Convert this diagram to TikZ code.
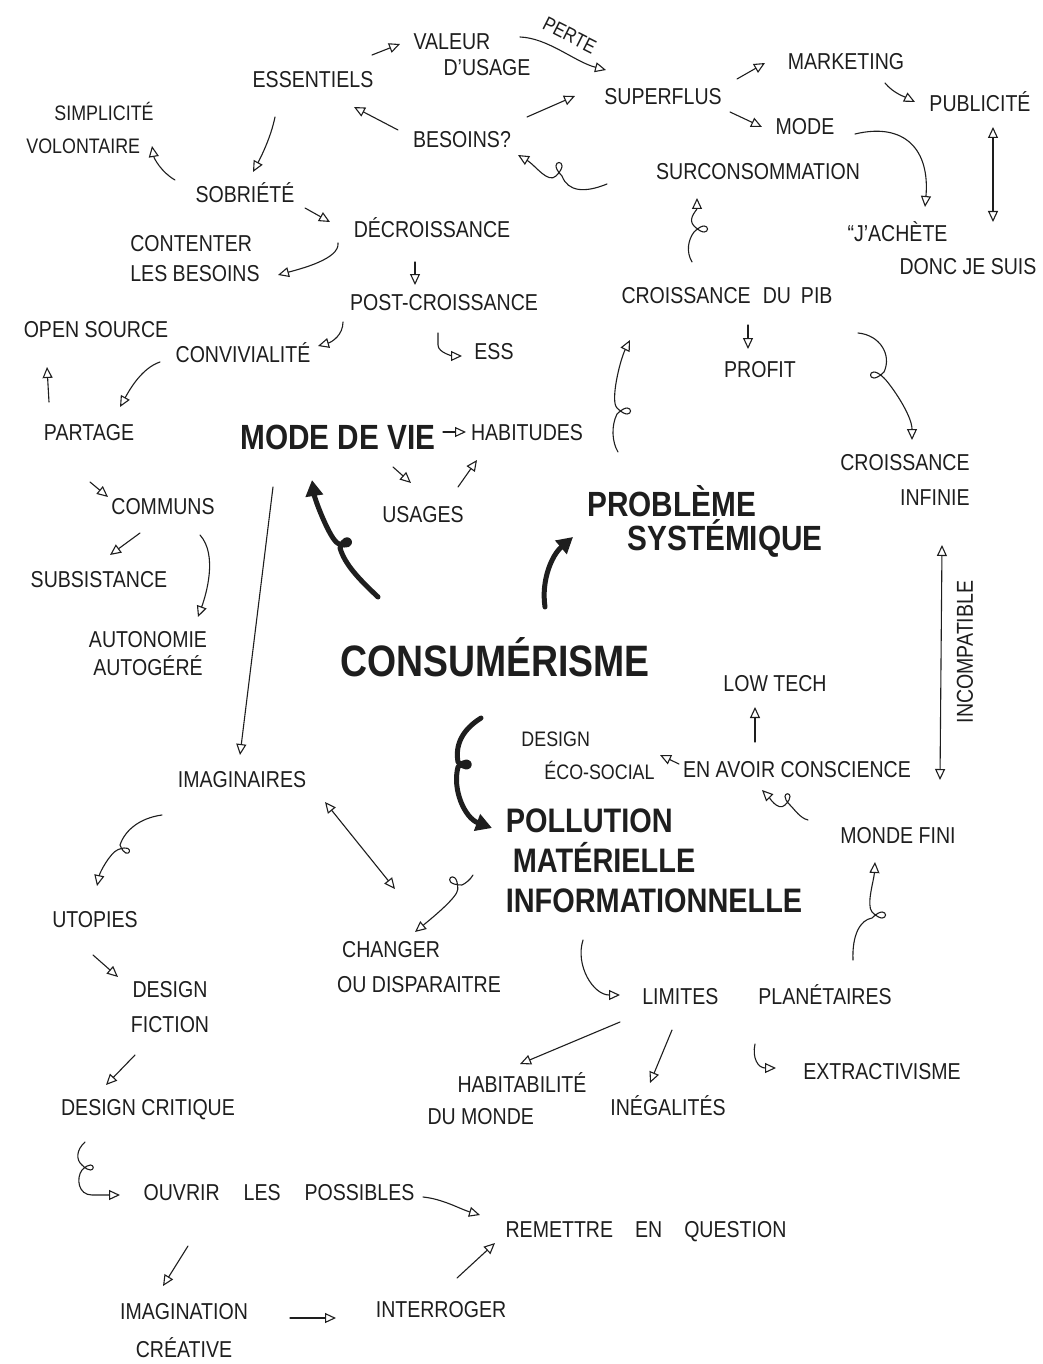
\documentclass[tikz,border=0pt]{standalone}
\usepackage{fontspec}
\setmainfont{Liberation Sans}[FakeStretch=0.85]
\usetikzlibrary{arrows.meta,calc}
\definecolor{ink}{HTML}{1E1E1E}
\begin{document}
\begin{tikzpicture}[x=1pt,y=-1pt,
  lbl/.style={font=\fontsize{23}{29}\selectfont, text=ink, inner sep=1pt, align=center},
  hd/.style={font=\fontsize{35}{36}\selectfont\bfseries, text=ink, inner sep=1pt},
  con/.style={draw=ink, line width=1.1pt, line cap=round, line join=round,
              -{Triangle[open, length=11pt, width=10pt]}},
  twoway/.style={con, {Triangle[open, length=11pt, width=10pt]}-{Triangle[open, length=11pt, width=10pt]}},
  bigarrow/.style={draw=ink, line width=5pt, line cap=round, line join=round,
              -{Triangle[length=16pt, width=17pt]}}]

\fill[white] (0,0) rectangle (1043,1364);
\useasboundingbox (0,0) rectangle (1043,1364);

% ---------- labels ----------
\node[lbl] (essentiels) at (313,80) {ESSENTIELS};
\node[lbl, align=left] (valeur) at (472,55) {VALEUR\\[-3pt]\hspace*{30pt}D'USAGE};
\node[lbl] (superflus) at (663,97) {SUPERFLUS};
\node[lbl] (marketing) at (846,62) {MARKETING};
\node[lbl] (publicite) at (980,102) {PUBLICITÉ};
\node[lbl] (mode) at (805,127) {MODE};
\node[lbl] (besoins) at (462,140) {BESOINS?};
\node[lbl, font=\fontsize{21}{33}\selectfont, align=left] (simplicite) at (90,128) {\hspace*{28pt}SIMPLICITÉ\\VOLONTAIRE};
\node[lbl] (surconso) at (758,172) {SURCONSOMMATION};
\node[lbl] (sobriete) at (245,193) {SOBRIÉTÉ};
\node[lbl, font=\fontsize{23}{33}\selectfont, align=left] (jachete) at (942,248) {“J'ACHÈTE\\\hspace*{52pt}DONC JE SUIS};
\node[lbl] (decroissance) at (432,228) {DÉCROISSANCE};
\node[lbl, font=\fontsize{23}{30}\selectfont, align=left] (contenter) at (195,259) {CONTENTER\\LES BESOINS};
\node[lbl] (postcroissance) at (444,303) {POST-CROISSANCE};
\node[lbl] (pib) at (727,296) {CROISSANCE\hspace{12pt}DU\hspace{10pt}PIB};
\node[lbl] (opensource) at (96,330) {OPEN SOURCE};
\node[lbl] (convivialite) at (243,353) {CONVIVIALITÉ};
\node[lbl] (ess) at (494,352) {ESS};
\node[lbl] (profit) at (760,370) {PROFIT};
\node[lbl] (partage) at (89,433) {PARTAGE};
\node[hd] (modedevie) at (338,437) {MODE DE VIE};
\node[lbl] (habitudes) at (527,433) {HABITUDES};
\node[lbl, font=\fontsize{23}{35}\selectfont, align=right] (infinie) at (905,480) {CROISSANCE\\INFINIE};
\node[lbl] (usages) at (423,515) {USAGES};
\node[lbl] (communs) at (163,507) {COMMUNS};
\node[hd, font=\fontsize{35}{34}\selectfont\bfseries, align=left] (probleme) at (705,521) {PROBLÈME\\\hspace*{40pt}SYSTÉMIQUE};
\node[lbl] (subsistance) at (99,580) {SUBSISTANCE};
\node[lbl, rotate=90] (incompatible) at (965,652) {INCOMPATIBLE};
\node[hd, font=\fontsize{44}{46}\selectfont\bfseries] (consumerisme) at (495,657) {CONSUMÉRISME};
\node[lbl, font=\fontsize{23}{28}\selectfont] (autonomie) at (148,654) {AUTONOMIE\\AUTOGÉRÉ};
\node[lbl] (lowtech) at (775,684) {LOW TECH};
\node[lbl, font=\fontsize{21}{33}\selectfont, align=left] (designeco) at (588,756) {DESIGN\\\hspace*{23pt}ÉCO-SOCIAL};
\node[lbl] (conscience) at (797,770) {EN AVOIR CONSCIENCE};
\node[lbl] (imaginaires) at (242,780) {IMAGINAIRES};
\node[hd, font=\fontsize{34}{40}\selectfont\bfseries, align=left] (pollution) at (654,861) {POLLUTION\\\hspace*{7pt}MATÉRIELLE\\INFORMATIONNELLE};
\node[lbl] (mondefini) at (898,836) {MONDE FINI};
\node[lbl] (utopies) at (95,920) {UTOPIES};
\node[lbl, font=\fontsize{23}{35}\selectfont, align=left] (changer) at (419,967) {\hspace*{5pt}CHANGER\\OU DISPARAITRE};
\node[lbl, font=\fontsize{23}{35}\selectfont] (fiction) at (170,1007) {DESIGN\\FICTION};
\node[lbl] (limites) at (767,995) {LIMITES\hspace{40pt}PLANÉTAIRES};
\node[lbl] (extractivisme) at (882,1072) {EXTRACTIVISME};
\node[lbl, font=\fontsize{23}{32}\selectfont, align=left] (habitabilite) at (507,1099) {\hspace*{30pt}HABITABILITÉ\\DU MONDE};
\node[lbl] (inegalites) at (668,1106) {INÉGALITÉS};
\node[lbl] (critique) at (148,1110) {DESIGN CRITIQUE};
\node[lbl] (ouvrir) at (279,1193) {OUVRIR\hspace{24pt}LES\hspace{24pt}POSSIBLES};
\node[lbl] (remettre) at (646,1232) {REMETTRE\hspace{22pt}EN\hspace{22pt}QUESTION};
\node[lbl, font=\fontsize{23}{38}\selectfont] (imagination) at (184,1331) {IMAGINATION\\CRÉATIVE};
\node[lbl] (interroger) at (441,1310) {INTERROGER};

% ---------- connectors: top cluster ----------
\draw[con] ($(essentiels)+(59,-25)$) -- ($(valeur)+(-72,-11)$);
\draw[con] ($(valeur)+(48,-18)$) .. controls +(28,1) and +(-31,-8) .. ($(superflus)+(-57,-27)$)
  node[midway, sloped, above=9pt, text=ink, font=\fontsize{20}{24}\selectfont, inner sep=1pt] (perte) {PERTE};
\draw[con] ($(besoins)+(-64,-10)$) -- ($(essentiels)+(41,27)$);
\draw[con] ($(besoins)+(65,-23)$) -- ($(superflus)+(-88,-1)$);
\draw[con] ($(surconso)+(-151,12)$) .. controls (585,193) and (568,192) .. (562,176)
  .. controls (544,158) and (574,158) .. (556,176)
  .. controls (548,184) and (535,165) .. ($(besoins)+(56,15)$);
\draw[con] ($(essentiels)+(-38,37)$) .. controls +(-4,20) and +(8,-15) .. ($(sobriete)+(8,-21)$);
\draw[con] ($(sobriete)+(-70,-13)$) .. controls +(-14,-8) and +(2,12) .. ($(simplicite)+(62,18)$);
\draw[con] ($(sobriete)+(60,15)$) -- ($(decroissance)+(-102,-6)$);
\draw[con] ($(decroissance)+(-94,15)$) .. controls +(2,16) and +(22,-6) .. ($(contenter)+(83,16)$);
\draw[con] ($(decroissance)+(-17,34)$) -- ($(postcroissance)+(-29,-18)$);
\draw[con] ($(postcroissance)+(-101,19)$) .. controls +(0,13) and +(14,-4) .. ($(convivialite)+(75,-7)$);
\draw[con] ($(postcroissance)+(-6,30)$) -- ++(0,12) .. controls +(0,8) and +(-8,0) .. ($(ess)+(-32,4)$);
\draw[con] ($(convivialite)+(-83,9)$) .. controls +(-18,6) and +(10,-18) .. ($(partage)+(31,-26)$);
\draw[con] ($(partage)+(-40,-31)$) -- ($(opensource)+(-49,37)$);
\draw[con] ($(partage)+(1,49)$) -- ($(communs)+(-55,-10)$);
\draw[con] ($(communs)+(-23,26)$) -- ($(subsistance)+(11,-25)$);
\draw[con] ($(communs)+(37,28)$) .. controls +(18,20) and +(8,-22) .. ($(autonomie)+(50,-37)$);

% ---------- right top cluster ----------
\draw[con] ($(superflus)+(74,-18)$) -- ($(marketing)+(-81,1)$);
\draw[con] ($(superflus)+(67,15)$) -- ($(mode)+(-43,0)$);
\draw[con] ($(marketing)+(39,21)$) .. controls +(8,10) and +(-10,-5) .. ($(publicite)+(-65,0)$);
\draw[con] ($(mode)+(50,7)$) .. controls +(50,-12) and +(5,-57) .. ($(jachete)+(-17,-41)$);
\draw[twoway] ($(publicite)+(13,25)$) -- ($(jachete)+(51,-26)$);
\draw[con] ($(pib)+(-35,-34)$) .. controls (686,252) and (688,240) .. (694,232)
  .. controls (712,214) and (712,244) .. (694,226)
  .. controls (687,219) and (697,210) .. ($(surconso)+(-61,26)$);
\draw[con] ($(pib)+(21,29)$) -- ($(profit)+(-12,-21)$);
\draw[con] ($(pib)+(131,37)$) .. controls (880,335) and (892,355) .. (884,372)
  .. controls (866,390) and (866,360) .. (884,378)
  .. controls (891,385) and (912,415) .. ($(infinie)+(7,-40)$);
\draw[con] ($(probleme)+(-87,-69)$) .. controls (612,442) and (611,426) .. (617,414)
  .. controls (635,396) and (635,426) .. (617,408)
  .. controls (610,401) and (620,360) .. ($(pib)+(-97,44)$);
\draw[twoway] ($(infinie)+(37,65)$) -- ($(mondefini)+(42,-56)$);

% ---------- centre ----------
\draw[con] ($(modedevie)+(-65,50)$) -- ($(imaginaires)+(-2,-25)$);
\draw[con] ($(modedevie)+(105,-5)$) -- ($(habitudes)+(-61,-1)$);
\draw[con] ($(modedevie)+(55,30)$) -- ($(usages)+(-12,-32)$);
\draw[con] ($(usages)+(35,-28)$) -- ($(habitudes)+(-50,27)$);
\draw[bigarrow] ($(consumerisme)+(-117,-60)$) .. controls (360,580) and (345,565) .. (340,548)
  .. controls (347.8,528.2) and (357.8,551.2) .. (338,543.4)
  .. controls (330,539.4) and (315,500) .. ($(modedevie)+(-26,43)$);
\draw[bigarrow] ($(consumerisme)+(50,-50)$) .. controls +(-4,-27) and +(-21,18) .. ($(probleme)+(-132,16)$);
\draw[bigarrow] ($(consumerisme)+(-14,61)$) .. controls (462,730) and (455,745) .. (458,762)
  .. controls (473,777) and (473,752) .. (458,767)
  .. controls (452,790) and (465,818) .. ($(pollution)+(-162,-33)$);

% ---------- right middle ----------
\draw[con] ($(conscience)+(-42,-28)$) -- ($(lowtech)+(-20,23)$);
\draw[con] ($(conscience)+(-118,-6)$) -- ($(designeco)+(72,-1)$);
\draw[con] ($(mondefini)+(-90,-16)$) .. controls (800,818) and (795,810) .. (790,805)
  .. controls (775,790) and (800,790) .. (785,805)
  .. controls (778,812) and (768,796) .. ($(conscience)+(-35,20)$);
\draw[con] ($(limites)+(86,-35)$) .. controls (852,935) and (860,920) .. (872,918)
  .. controls (890,900) and (890,930) .. (872,912)
  .. controls (866,905) and (874,880) .. ($(mondefini)+(-23,26)$);

% ---------- lower part ----------
\draw[twoway] ($(imaginaires)+(83,22)$) -- ($(changer)+(-24,-78)$);
\draw[con] ($(pollution)+(-181,14)$) .. controls (470,880) and (466,883) .. (462,885)
  .. controls (436.8,885) and (457.8,864) .. (457.8,889.2)
  .. controls (457.8,897) and (432,918) .. ($(changer)+(-4,-35)$);
\draw[con] ($(pollution)+(-71,79)$) .. controls +(-8,25) and +(-27,0) .. ($(limites)+(-147,0)$);
\draw[con] ($(limites)+(-147,27)$) -- ($(habitabilite)+(13,-35)$);
\draw[con] ($(limites)+(-95,35)$) -- ($(inegalites)+(-18,-23)$);
\draw[con] ($(limites)+(-12,49)$) .. controls +(-3,14) and +(-18,0) .. ($(extractivisme)+(-106,-4)$);
\draw[con] ($(imaginaires)+(-80,35)$) .. controls (140,818) and (125,830) .. (120,845)
  .. controls (127.8,864.8) and (137.8,841.8) .. (118,849.6)
  .. controls (110,853) and (100,872) .. ($(utopies)+(2,-34)$);
\draw[con] ($(utopies)+(-2,35)$) -- ($(fiction)+(-52,-30)$);
\draw[con] ($(fiction)+(-35,48)$) -- ($(critique)+(-42,-25)$);
\draw[con] ($(critique)+(-63,32)$) .. controls (76,1150) and (76,1160) .. (82,1165)
  .. controls (97,1180) and (97,1155) .. (82,1170)
  .. controls (76,1178) and (78,1195) .. (92,1195) -- ($(ouvrir)+(-159,2)$);
\draw[con] ($(ouvrir)+(144,4)$) .. controls +(20,2) and +(-20,-6) .. ($(remettre)+(-166,-17)$);
\draw[con] ($(ouvrir)+(-91,53)$) -- ($(imagination)+(-21,-45)$);
\draw[con] ($(imagination)+(106,-13)$) -- ($(interroger)+(-105,8)$);
\draw[con] ($(interroger)+(16,-32)$) -- ($(remettre)+(-151,11)$);
\end{tikzpicture}
\end{document}
